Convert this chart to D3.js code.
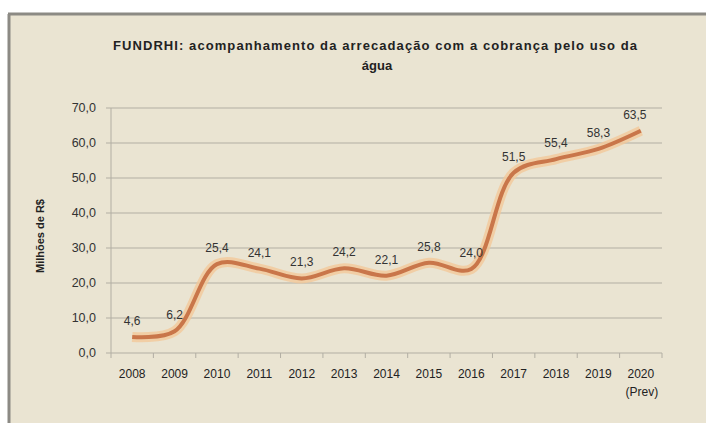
<!DOCTYPE html>
<html>
<head>
<meta charset="utf-8">
<script src="https://cdn.jsdelivr.net/npm/d3@7"></script>
<style>
body { margin: 0; background: #fff; }
text { font-family: 'Liberation Sans', Arial, sans-serif; }
</style>
</head>
<body>
<div id="chart"></div>
<script>
// data
let years = ['2008','2009','2010','2011','2012','2013','2014','2015','2016','2017','2018','2019','2020'];
let values = [4.6, 6.2, 25.4, 24.1, 21.3, 24.2, 22.1, 25.8, 24.0, 51.5, 55.4, 58.3, 63.5];
let yTicks = [0, 10, 20, 30, 40, 50, 60, 70];
let title = ['FUNDRHI: acompanhamento da arrecadação com a cobrança pelo uso da', 'água'];

let width = 706;
let height = 423;

let svg = d3.select('#chart')
	.append('svg')
	.attr('width', width)
	.attr('height', height);

// frame
svg.append('rect')
	.attr('x', 9).attr('y', 14)
	.attr('width', width - 9).attr('height', height - 14)
	.attr('fill', '#eae4d2');
svg.append('line')
	.attr('x1', 8).attr('x2', width).attr('y1', 14).attr('y2', 14)
	.attr('stroke', '#8c8a84').attr('stroke-width', 3);
svg.append('line')
	.attr('x1', 9).attr('x2', 9).attr('y1', 14).attr('y2', height)
	.attr('stroke', '#8c8a84').attr('stroke-width', 3);

let plotLeft = 111, plotRight = 662, plotTop = 108, plotBottom = 353;

let x = d3.scaleBand()
	.domain(years)
	.range([plotLeft, plotRight]);

let y = d3.scaleLinear()
	.domain([0, 70])
	.range([plotBottom, plotTop]);

// gridlines
svg.append('g')
	.selectAll('line')
	.data(yTicks)
	.enter()
	.append('line')
	.attr('x1', plotLeft - 5)
	.attr('x2', plotRight)
	.attr('y1', d => y(d))
	.attr('y2', d => y(d))
	.attr('stroke', '#b2aea3')
	.attr('stroke-width', 1);

// y axis
svg.append('line')
	.attr('x1', plotLeft).attr('x2', plotLeft)
	.attr('y1', plotTop).attr('y2', plotBottom)
	.attr('stroke', '#b2aea3');

svg.append('g')
	.selectAll('text')
	.data(yTicks)
	.enter()
	.append('text')
	.attr('x', 96)
	.attr('y', d => y(d) + 4)
	.attr('text-anchor', 'end')
	.attr('font-size', 12.5)
	.attr('fill', '#333')
	.text(d => d3.format('.1f')(d).replace('.', ','));

// x axis ticks
svg.append('g')
	.selectAll('line')
	.data(years.concat(['end']))
	.enter()
	.append('line')
	.attr('x1', (d, i) => plotLeft + x.step() * i)
	.attr('x2', (d, i) => plotLeft + x.step() * i)
	.attr('y1', plotBottom)
	.attr('y2', plotBottom + 5)
	.attr('stroke', '#b2aea3');

svg.append('g')
	.selectAll('text')
	.data(years)
	.enter()
	.append('text')
	.attr('x', d => x(d) + x.bandwidth() / 2)
	.attr('y', 378)
	.attr('text-anchor', 'middle')
	.attr('font-size', 12)
	.attr('fill', '#222')
	.text(d => d);

svg.append('text')
	.attr('x', x('2020') + x.bandwidth() / 2 + 1)
	.attr('y', 396)
	.attr('text-anchor', 'middle')
	.attr('font-size', 12)
	.attr('fill', '#222')
	.text('(Prev)');

// y title
svg.append('text')
	.attr('transform', 'translate(44,' + 236 + ') rotate(-90)')
	.attr('text-anchor', 'middle')
	.attr('font-size', 11)
	.attr('font-weight', 'bold')
	.attr('fill', '#222')
	.text('Milhões de R$');

// title
svg.append('text')
	.attr('x', 375)
	.attr('y', 50)
	.attr('text-anchor', 'middle')
	.attr('font-size', 13)
	.attr('font-weight', 'bold')
	.attr('fill', '#222')
	.attr('textLength', 524)
	.attr('lengthAdjust', 'spacing')
	.text(title[0]);
svg.append('text')
	.attr('x', 377)
	.attr('y', 70)
	.attr('text-anchor', 'middle')
	.attr('font-size', 13)
	.attr('font-weight', 'bold')
	.attr('fill', '#222')
	.text(title[1]);

// line
let pts = years.map((d, i) => [x(d) + x.bandwidth() / 2, y(values[i])]);
let line = d3.line().curve(d3.curveCatmullRom.alpha(0.5));

svg.append('path')
	.attr('d', line(pts))
	.attr('fill', 'none')
	.attr('stroke', '#f2c89a')
	.attr('stroke-width', 10)
	.attr('stroke-linejoin', 'round')
	.attr('opacity', 0.8);
svg.append('path')
	.attr('d', line(pts))
	.attr('fill', 'none')
	.attr('stroke', '#c9764a')
	.attr('stroke-width', 4)
	.attr('stroke-linejoin', 'round');

// labels
svg.append('g')
	.selectAll('text')
	.data(values)
	.enter()
	.append('text')
	.attr('x', (d, i) => pts[i][0] - (i === 12 ? 6 : 0))
	.attr('y', (d, i) => pts[i][1] - 12)
	.attr('text-anchor', 'middle')
	.attr('font-size', 12)
	.attr('fill', '#333')
	.text(d => d3.format('.1f')(d).replace('.', ','));
</script>
</body>
</html>
